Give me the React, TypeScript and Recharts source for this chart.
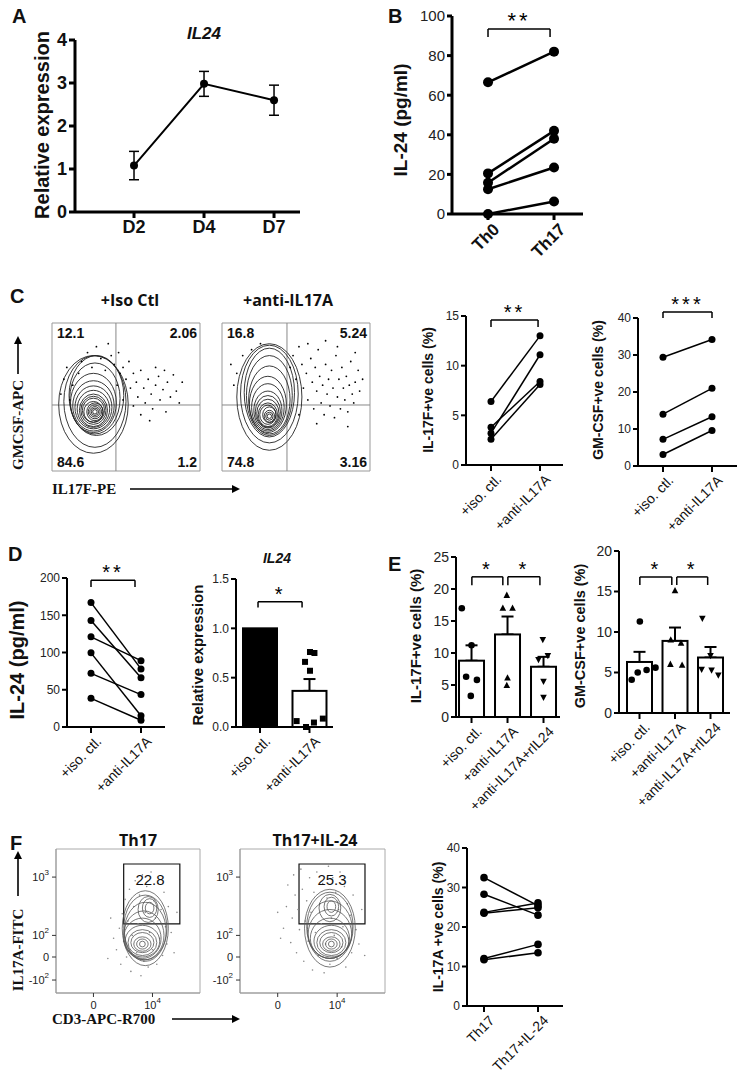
import React from 'react';
import {
  LineChart, Line, XAxis, YAxis, ErrorBar, ComposedChart, Scatter, ScatterChart,
  ReferenceLine, ReferenceArea,
} from 'recharts';

const FONT = '"Liberation Sans", Arial, Helvetica, sans-serif';
const SERIF = '"Liberation Serif", "Times New Roman", serif';
const TFONT = '"Open Sans", "Liberation Sans", sans-serif';

// ---------------- Panel A ----------------
const aDays = ['D2', 'D4', 'D7'];
const aMean = [1.08, 2.98, 2.6];
const aSem = [0.33, 0.29, 0.35];

// ---------------- Panel B ----------------
const bGroups = ['Th0', 'Th17'];
const bTh0 = [66.5, 20.5, 15.8, 12.5, 0];
const bTh17 = [82, 42, 38, 23.5, 6.3];

// ---------------- Panel C ----------------
const cTreat = ['+iso. ctl.', '+anti-IL17A'];
const c17fIso = [6.4, 3.8, 3.2, 2.6];
const c17fAnti = [13.0, 8.4, 11.1, 8.1];
const cGmIso = [29.4, 14.0, 7.2, 3.1];
const cGmAnti = [34.2, 21.0, 13.3, 9.6];
const cQuadIso = ['12.1', '2.06', '84.6', '1.2'];
const cQuadAnti = ['16.8', '5.24', '74.8', '3.16'];
const cIsoLevels = [[29, 40, 1.5, 1.5], [29, 40, 2.5, 2.5], [29, 40, 3.5, 3.5], [29, 40, 4.5, 4.7], [29, 40, 5.5, 6], [28, 40, 6.5, 7], [28, 41, 7.5, 8.2], [28, 41, 8.5, 9.5], [28, 41, 9.5, 11], [28, 42, 11, 12.5], [28, 43, 12.5, 14.5], [28, 44, 14, 17], [28, 46, 15.5, 20], [29, 49, 17, 24], [30, 51, 18.5, 27], [29, 47, 21, 31], [28, 45, 23.5, 33]];
const cAntiLevels = [[32, 37, 1.5, 1.5], [32, 37, 2.5, 2.7], [32, 37, 3.5, 4], [32, 38, 4.5, 5.3], [31, 38, 5.5, 6.5], [31, 38, 6.5, 8], [31, 39, 7.5, 9.5], [31, 40, 8.5, 11], [31, 41, 9.5, 13], [31, 43, 11, 16], [31, 45, 12.5, 19], [32, 48, 14, 23], [32, 51, 15.5, 27], [32, 53, 17, 30], [32, 52, 19.5, 33], [32, 50, 22, 36]];
const cIsoDots = [[8, 62], [10, 70], [14, 58], [18, 66], [20, 74], [24, 80], [27, 70], [30, 84], [33, 76], [36, 68], [38, 86], [40, 78], [42, 72], [45, 80], [46, 66], [48, 70], [50, 62], [52, 74], [53, 56], [55, 66], [57, 60], [58, 50], [60, 68], [62, 56], [63, 46], [65, 62], [67, 52], [68, 42], [70, 58], [72, 64], [73, 48], [75, 55], [77, 40], [78, 60], [80, 50], [82, 65], [84, 54], [86, 46], [60, 38], [66, 34], [55, 44], [48, 48], [70, 70], [88, 60], [76, 68], [12, 48], [6, 52], [44, 58]];
const cAntiDots = [[6, 72], [10, 66], [14, 78], [8, 58], [20, 82], [26, 86], [46, 70], [48, 78], [50, 62], [52, 84], [54, 72], [55, 56], [57, 66], [58, 48], [60, 76], [61, 60], [62, 42], [63, 70], [64, 54], [65, 82], [66, 64], [67, 46], [68, 58], [69, 38], [70, 72], [71, 52], [72, 62], [73, 44], [74, 68], [75, 56], [76, 36], [77, 78], [78, 50], [79, 62], [80, 42], [81, 70], [82, 56], [83, 48], [84, 64], [85, 40], [86, 58], [87, 74], [88, 52], [89, 46], [90, 60], [92, 68], [93, 54], [95, 62], [58, 86], [70, 88], [78, 84], [90, 80], [85, 30], [64, 32], [52, 38]];

// ---------------- Panel D ----------------
const dIso = [167, 143, 121, 99.5, 72, 38.5];
const dAnti = [78, 66, 89, 15, 43.5, 9];
const dRelMean = [1.0, 0.366];
const dRelSem = [0, 0.12];
const dRelAnti = [0.76, 0.75, 0.66, 0.57, 0.06, 0.0, 0.045, 0.085];
const dRelJitter = [0.01, 0.1, -0.09, 0.01, -0.26, -0.07, 0.09, 0.27];

// ---------------- Panel E ----------------
const eTreat = ['+iso. ctl.', '+anti-IL17A', '+anti-IL17A+rIL24'];
const e17fMean = [8.8, 12.9, 7.85];
const e17fSem = [2.4, 2.8, 1.55];
const e17fIso = [17.0, 11.2, 6.3, 5.8, 3.3];
const e17fAnti = [19.0, 17.0, 17.0, 6.1, 4.9];
const e17fRil = [12.1, 9.6, 9.0, 5.6, 3.1];
const e17fIsoJ = [-0.27, 0.0, -0.15, 0.15, -0.02];
const e17fAntiJ = [-0.02, -0.13, 0.14, 0.0, -0.02];
const e17fRilJ = [-0.02, 0.12, -0.14, 0.0, 0.0];
const eGmMean = [6.3, 8.9, 6.85];
const eGmSem = [1.25, 1.65, 1.3];
const eGmIso = [11.3, 5.6, 5.3, 5.0, 4.1];
const eGmAnti = [15.1, 9.0, 8.6, 6.0, 5.9];
const eGmRil = [11.7, 7.1, 5.4, 5.3, 4.7];
const eGmIsoJ = [0.01, 0.45, 0.2, -0.05, -0.22];
const eGmAntiJ = [0.0, -0.12, 0.17, -0.13, 0.2];
const eGmRilJ = [-0.23, 0.0, -0.25, 0.03, 0.22];

// ---------------- Panel F ----------------
const fGroups = ['Th17', 'Th17+IL-24'];
const fTh17 = [32.5, 28.3, 23.7, 23.5, 12.0, 11.7];
const fIl24 = [25.4, 23.0, 26.1, 24.9, 15.6, 13.5];
const fYTicks = [9, 25, 40, 80.5];
const fYLabels: [string, string][] = [['-10', '2'], ['0', ''], ['10', '2'], ['10', '3']];
const fXTicks = [26, 67];
const fXLabels: [string, string][] = [['0', ''], ['10', '4']];
const fTh17Levels = [[60, 34, 2, 2], [60, 34, 4, 3.5], [60, 34, 6, 5], [60, 35, 8, 7], [60, 35, 10, 9], [60, 36, 12, 11], [60, 38, 13, 14], [61, 40, 14, 17], [62, 43, 14.5, 20], [62, 45, 15, 23], [62, 45, 16, 26], [65, 59, 3, 4], [65, 59, 5, 6.5], [64, 58, 7, 9]];
const fIl24Levels = [[63, 34, 2, 2], [63, 34, 4, 3.5], [63, 34, 6, 5], [63, 35, 8, 7], [63, 35, 10, 9], [63, 36, 12, 11], [62, 38, 13.5, 14], [62, 41, 15, 17], [62, 44, 15.5, 20], [62, 46, 16, 24], [62, 45, 17.5, 27], [63, 60, 3, 4], [63, 60, 5, 6.5], [62, 59, 7.5, 9.5]];
const fTh17Dots = [[42, 30], [44, 45], [45, 20], [46, 55], [47, 36], [48, 65], [49, 25], [50, 50], [51, 72], [52, 15], [53, 40], [54, 60], [55, 78], [56, 28], [57, 48], [58, 68], [59, 12], [60, 82], [61, 22], [62, 56], [63, 74], [64, 18], [65, 42], [66, 84], [67, 30], [68, 64], [69, 52], [70, 20], [71, 76], [72, 38], [73, 58], [74, 26], [75, 70], [76, 46], [77, 34], [78, 60], [40, 38], [38, 52], [80, 42], [82, 28], [36, 24], [84, 56]];
const fIl24Dots = [[30, 45], [32, 60], [33, 75], [35, 35], [36, 52], [37, 82], [38, 68], [39, 28], [40, 58], [41, 44], [42, 86], [43, 72], [44, 22], [45, 50], [46, 64], [47, 36], [48, 80], [49, 56], [50, 16], [51, 70], [52, 42], [53, 84], [54, 26], [55, 62], [56, 48], [57, 76], [58, 14], [59, 34], [60, 66], [61, 88], [62, 20], [63, 52], [64, 80], [65, 40], [66, 70], [67, 24], [68, 58], [69, 84], [70, 32], [71, 46], [72, 74], [73, 18], [74, 62], [75, 38], [76, 54], [77, 28], [78, 68], [80, 44], [82, 34], [84, 58], [86, 26], [28, 38], [26, 56]];

// ---------------- helpers ----------------
type Fr = { x0: number; y0: number; x1: number; y1: number };
type Br = { x1: number; x2: number; y: number; drop: number; label: string; fs: number };

function place(f: Fr, yw: number, xh: number, top: number, right: number, lp = 0, bp = 0) {
  return {
    style: { position: 'absolute' as const, left: f.x0 - yw - lp, top: f.y0 - top },
    width: lp + yw + (f.x1 - f.x0) + right,
    height: top + (f.y1 - f.y0) + xh + bp,
    margin: { top, right, left: lp, bottom: bp },
  };
}

function bracketEls(bs: Br[] | undefined, lw: number) {
  if (!bs) return null;
  return bs.flatMap((b, i) => [
    <ReferenceLine key={`bh${i}`} segment={[{ x: b.x1, y: b.y }, { x: b.x2, y: b.y }]} stroke="#000" strokeWidth={lw} ifOverflow="visible"
      label={{ value: b.label, position: 'top', fontSize: b.fs, fill: '#000', offset: 1, fontFamily: FONT, letterSpacing: 3 }} />,
    <ReferenceLine key={`bl${i}`} segment={[{ x: b.x1, y: b.y }, { x: b.x1, y: b.drop }]} stroke="#000" strokeWidth={lw} ifOverflow="visible" />,
    <ReferenceLine key={`br${i}`} segment={[{ x: b.x2, y: b.y }, { x: b.x2, y: b.drop }]} stroke="#000" strokeWidth={lw} ifOverflow="visible" />,
  ]);
}

function rotTick(labels: string[], fs: number, weight: number, dx: number, dy: number) {
  return (p: any) => {
    const x = p.x + dx;
    const y = p.y + dy;
    const i = Math.round(Number(p.payload?.value)) - 1;
    return (
      <text x={x} y={y} transform={`rotate(-45 ${x} ${y})`} textAnchor="end" dominantBaseline="hanging"
        fontSize={fs} fontWeight={weight} fontFamily={FONT} fill="#111">
        {labels[i] ?? ''}
      </text>
    );
  };
}

function marker(kind: string, s: number) {
  return (p: any) => {
    const { cx, cy } = p;
    if (cx == null || cy == null) return <g />;
    if (kind === 'circle') return <circle cx={cx} cy={cy} r={s} fill="#000" />;
    if (kind === 'square') return <rect x={cx - s} y={cy - s} width={2 * s} height={2 * s} fill="#000" />;
    if (kind === 'up') return <polygon points={`${cx},${cy - s * 1.15} ${cx - s},${cy + s * 0.75} ${cx + s},${cy + s * 0.75}`} fill="#000" />;
    return <polygon points={`${cx},${cy + s * 1.15} ${cx - s},${cy - s * 0.75} ${cx + s},${cy - s * 0.75}`} fill="#000" />;
  };
}

// a bar drawn from the scaled value down to the plot's baseline
function barShape(w: number, base: number, fill: string, sw: number) {
  return (p: any) => {
    if (p.cx == null || p.cy == null) return <g />;
    return <rect x={p.cx - w / 2} y={p.cy} width={w} height={Math.max(0, base - p.cy)} fill={fill} stroke="#000" strokeWidth={sw} />;
  };
}

function ellShape(kx: number, ky: number, stroke: string, sw: number) {
  return (p: any) => {
    const d = p.payload ?? p;
    if (p.cx == null) return <g />;
    return <ellipse cx={p.cx} cy={p.cy} rx={d.rx * kx} ry={d.ry * ky} fill="none" stroke={stroke} strokeWidth={sw} />;
  };
}

function dotShape(r: number, fill: string) {
  return (p: any) => (p.cx == null ? <g /> : <circle cx={p.cx} cy={p.cy} r={r} fill={fill} />);
}

// ---------------- paired line chart ----------------
type PairedP = {
  f: Fr; xDomain: [number, number]; yDomain: [number, number]; yTicks: number[];
  cats: string[]; before: number[]; after: number[];
  tickFs: number; catFs: number; catW?: number; catDx?: number; catDy?: number;
  axisW: number; lineW: number; dotR: number; brackets?: Br[]; yw?: number;
};
function Paired(p: PairedP) {
  const yw = p.yw ?? 40;
  const pl = place(p.f, yw, 70, 30, 12);
  const ax = { stroke: '#000', strokeWidth: p.axisW };
  return (
    <div style={pl.style}>
      <LineChart width={pl.width} height={pl.height} margin={pl.margin}>
        <XAxis type="number" dataKey="x" domain={p.xDomain} ticks={[1, 2]} interval={0} height={70}
          axisLine={ax} tickLine={ax} tickSize={6}
          tick={rotTick(p.cats, p.catFs, p.catW ?? 400, p.catDx ?? 4, p.catDy ?? 0)} />
        <YAxis type="number" domain={p.yDomain} ticks={p.yTicks} interval={0} width={yw}
          axisLine={ax} tickLine={ax} tickSize={5}
          tick={{ fontSize: p.tickFs, fill: '#222', fontFamily: FONT }} />
        {bracketEls(p.brackets, 1.5)}
        {p.before.map((b, i) => (
          <Line key={i} data={[{ x: 1, y: b }, { x: 2, y: p.after[i] }]} dataKey="y" stroke="#000" strokeWidth={p.lineW}
            dot={{ r: p.dotR, fill: '#000', stroke: '#000', strokeWidth: 0 }} activeDot={false} isAnimationActive={false} />
        ))}
      </LineChart>
    </div>
  );
}

// ---------------- bar + dots chart ----------------
type Grp = { vals: number[]; jit: number[]; shape: string };
type BarP = {
  f: Fr; xDomain: [number, number]; yDomain: [number, number]; yTicks: number[]; yFmt?: (v: number) => string;
  cats: string[]; means: number[]; sems: number[]; fills: string[]; barSize: number;
  groups: Grp[]; mk: number; tickFs: number; catFs: number; brackets?: Br[]; axisW: number; yw?: number;
};
function BarDots(p: BarP) {
  const yw = p.yw ?? 40;
  const top = 30;
  const pl = place(p.f, yw, 90, top, 12);
  const base = top + (p.f.y1 - p.f.y0);
  const ax = { stroke: '#000', strokeWidth: p.axisW };
  const ticks = p.means.map((_, i) => i + 1);
  return (
    <div style={pl.style}>
      <ComposedChart width={pl.width} height={pl.height} margin={pl.margin}>
        <XAxis type="number" dataKey="x" domain={p.xDomain} ticks={ticks} interval={0} height={90}
          axisLine={ax} tickLine={ax} tickSize={6} tick={rotTick(p.cats, p.catFs, 400, 4, 0)} />
        <YAxis type="number" domain={p.yDomain} ticks={p.yTicks} interval={0} width={yw}
          axisLine={ax} tickLine={ax} tickSize={5} tickFormatter={p.yFmt}
          tick={{ fontSize: p.tickFs, fill: '#222', fontFamily: FONT }} />
        {p.means.map((m, i) => (
          <Scatter key={`bar${i}`} data={[{ x: i + 1, y: m, e: [0, p.sems[i]] }]} dataKey="y"
            shape={barShape(p.barSize, base, p.fills[i], p.axisW)} isAnimationActive={false}>
            {p.sems[i] > 0 ? <ErrorBar dataKey="e" width={6} stroke="#000" strokeWidth={p.axisW} direction="y" /> : null}
          </Scatter>
        ))}
        {p.groups.map((g, gi) => (
          <Scatter key={gi} data={g.vals.map((v, j) => ({ x: gi + 1 + g.jit[j], y: v }))} dataKey="y"
            shape={marker(g.shape, p.mk)} isAnimationActive={false} />
        ))}
        {bracketEls(p.brackets, 1.5)}
      </ComposedChart>
    </div>
  );
}

// ---------------- flow plots ----------------
function FlowC({ f, levels, dots, vx, hy }: { f: Fr; levels: number[][]; dots: number[][]; vx: number; hy: number }) {
  const kx = (f.x1 - f.x0) / 100;
  const ky = (f.y1 - f.y0) / 100;
  const pl = place(f, 0, 0, 4, 4, 4, 4);
  const lv = levels.map(([x, y, rx, ry]) => ({ x, y, rx, ry }));
  const dt = dots.map(([x, y]) => ({ x, y }));
  return (
    <div style={pl.style}>
      <ScatterChart width={pl.width} height={pl.height} margin={pl.margin}>
        <XAxis type="number" dataKey="x" domain={[0, 100]} hide />
        <YAxis type="number" dataKey="y" domain={[0, 100]} hide />
        <ReferenceArea x1={0} x2={100} y1={0} y2={100} fill="#fff" fillOpacity={0} stroke="#999" strokeWidth={1} ifOverflow="visible" />
        <ReferenceLine x={vx} stroke="#888" strokeWidth={1} />
        <ReferenceLine y={hy} stroke="#888" strokeWidth={1} />
        <Scatter data={lv} dataKey="y" shape={ellShape(kx, ky, '#222', 0.9)} isAnimationActive={false} />
        <Scatter data={dt} dataKey="y" shape={dotShape(0.9, '#000')} isAnimationActive={false} />
      </ScatterChart>
    </div>
  );
}

function supTick(vals: number[], labels: [string, string][], axis: 'x' | 'y') {
  return (p: any) => {
    const i = vals.indexOf(Number(p.payload?.value));
    const [b, e] = labels[i] ?? ['', ''];
    const x = axis === 'y' ? p.x - 1 : p.x;
    const y = axis === 'y' ? p.y + 4 : p.y + 10;
    return (
      <text x={x} y={y} textAnchor={axis === 'y' ? 'end' : 'middle'} fontSize={11} fontFamily={FONT} fill="#222">
        {b}
        {e ? <tspan dy={-6} fontSize={8}>{e}</tspan> : null}
      </text>
    );
  };
}

function FlowF({ f, levels, dots, gate }: { f: Fr; levels: number[][]; dots: number[][]; gate: [number, number, number, number] }) {
  const kx = (f.x1 - f.x0) / 100;
  const ky = (f.y1 - f.y0) / 100;
  const pl = place(f, 40, 20, 4, 4);
  const lv = levels.map(([x, y, rx, ry]) => ({ x, y, rx, ry }));
  const dt = dots.map(([x, y]) => ({ x, y }));
  const ax = { stroke: '#999', strokeWidth: 1 };
  const tl = { stroke: '#333', strokeWidth: 1 };
  return (
    <div style={pl.style}>
      <ScatterChart width={pl.width} height={pl.height} margin={pl.margin}>
        <XAxis type="number" dataKey="x" domain={[0, 100]} ticks={fXTicks} interval={0} height={20}
          axisLine={ax} tickLine={tl} tickSize={4} tick={supTick(fXTicks, fXLabels, 'x')} />
        <YAxis type="number" dataKey="y" domain={[0, 100]} ticks={fYTicks} interval={0} width={40}
          axisLine={ax} tickLine={tl} tickSize={4} tick={supTick(fYTicks, fYLabels, 'y')} />
        <ReferenceArea x1={0} x2={100} y1={0} y2={100} fill="#fff" fillOpacity={0} stroke="#aaa" strokeWidth={1} ifOverflow="visible" />
        <Scatter data={dt} dataKey="y" shape={dotShape(0.8, '#888')} isAnimationActive={false} />
        <Scatter data={lv} dataKey="y" shape={ellShape(kx, ky, '#555', 0.8)} isAnimationActive={false} />
        <ReferenceArea x1={gate[0]} x2={gate[1]} y1={gate[2]} y2={gate[3]} fill="#fff" fillOpacity={0} stroke="#111" strokeWidth={1.2} ifOverflow="visible" />
      </ScatterChart>
    </div>
  );
}

// ---------------- Panel A ----------------
function PanelA() {
  const f = { x0: 75, y0: 40, x1: 300, y1: 212 };
  const pl = place(f, 50, 40, 20, 10);
  const rows = aDays.map((_, i) => ({ x: i + 1, y: aMean[i], e: [aSem[i], aSem[i]] }));
  const ax = { stroke: '#000', strokeWidth: 3 };
  return (
    <div style={pl.style}>
      <LineChart width={pl.width} height={pl.height} margin={pl.margin} data={rows}>
        <XAxis type="number" dataKey="x" domain={[0.157, 3.371]} ticks={[1, 2, 3]} interval={0} height={40}
          axisLine={ax} tickLine={ax} tickSize={6} tickFormatter={(v: number) => aDays[Math.round(v) - 1] ?? ''}
          tick={{ fontSize: 18, fontWeight: 700, fill: '#111', fontFamily: FONT }} />
        <YAxis type="number" domain={[0, 4]} ticks={[0, 1, 2, 3, 4]} interval={0} width={50}
          axisLine={ax} tickLine={ax} tickSize={6}
          tick={{ fontSize: 18, fontWeight: 700, fill: '#111', fontFamily: FONT }} />
        <Line dataKey="y" stroke="#000" strokeWidth={2} dot={{ r: 4, fill: '#000', stroke: '#000', strokeWidth: 0 }}
          activeDot={false} isAnimationActive={false}>
          <ErrorBar dataKey="e" width={5} stroke="#000" strokeWidth={1.5} direction="y" />
        </Line>
      </LineChart>
    </div>
  );
}

// ---------------- overlay text ----------------
type T = { t: string; x: number; y: number; fs: number; w?: number; it?: boolean; rot?: boolean; anchor?: 'start' | 'middle' | 'end'; fam?: string };
const texts: T[] = [
  { t: 'A', x: 12, y: 16, fs: 20, w: 700 },
  { t: 'B', x: 388, y: 16, fs: 20, w: 700 },
  { t: 'C', x: 10, y: 296, fs: 20, w: 700 },
  { t: 'D', x: 8, y: 554, fs: 20, w: 700 },
  { t: 'E', x: 388, y: 564, fs: 20, w: 700 },
  { t: 'F', x: 10, y: 843, fs: 20, w: 700 },
  { t: 'IL24', x: 204, y: 33, fs: 17, w: 700, it: true, anchor: 'middle' },
  { t: 'IL24', x: 277, y: 558, fs: 14, w: 700, it: true, anchor: 'middle' },
  { t: 'Relative expression', x: 42, y: 125, fs: 20, w: 700, rot: true, anchor: 'middle' },
  { t: 'IL-24 (pg/ml)', x: 400, y: 120, fs: 19, w: 700, rot: true, anchor: 'middle' },
  { t: 'IL-17F+ve cells (%)', x: 428, y: 390, fs: 14, w: 700, rot: true, anchor: 'middle' },
  { t: 'GM-CSF+ve cells (%)', x: 598, y: 390, fs: 14, w: 700, rot: true, anchor: 'middle' },
  { t: 'IL-24 (pg/ml)', x: 17, y: 660, fs: 20, w: 700, rot: true, anchor: 'middle' },
  { t: 'Relative expression', x: 197, y: 655, fs: 15, w: 700, rot: true, anchor: 'middle' },
  { t: 'IL-17F+ve cells (%)', x: 415, y: 636, fs: 15, w: 700, rot: true, anchor: 'middle' },
  { t: 'GM-CSF+ve cells (%)', x: 580, y: 636, fs: 14.5, w: 700, rot: true, anchor: 'middle' },
  { t: 'IL-17A +ve cells (%)', x: 438, y: 927, fs: 14, w: 700, rot: true, anchor: 'middle' },
  { t: '+Iso Ctl', x: 130, y: 300, fs: 16, w: 700, anchor: 'middle', fam: TFONT },
  { t: '+anti-IL17A', x: 288, y: 300, fs: 16, w: 700, anchor: 'middle', fam: TFONT },
  { t: 'Th17', x: 138, y: 840, fs: 16, w: 700, anchor: 'middle', fam: TFONT },
  { t: 'Th17+IL-24', x: 315, y: 840, fs: 16, w: 700, anchor: 'middle', fam: TFONT },
  { t: cQuadIso[0], x: 57, y: 333, fs: 14, w: 700 },
  { t: cQuadIso[1], x: 197, y: 333, fs: 14, w: 700, anchor: 'end' },
  { t: cQuadIso[2], x: 57, y: 462, fs: 14, w: 700 },
  { t: cQuadIso[3], x: 197, y: 462, fs: 14, w: 700, anchor: 'end' },
  { t: cQuadAnti[0], x: 227, y: 333, fs: 14, w: 700 },
  { t: cQuadAnti[1], x: 367, y: 333, fs: 14, w: 700, anchor: 'end' },
  { t: cQuadAnti[2], x: 227, y: 462, fs: 14, w: 700 },
  { t: cQuadAnti[3], x: 367, y: 462, fs: 14, w: 700, anchor: 'end' },
  { t: '22.8', x: 150, y: 879, fs: 15, anchor: 'middle' },
  { t: '25.3', x: 332, y: 879, fs: 15, anchor: 'middle' },
  { t: 'GMCSF-APC', x: 18, y: 425, fs: 15, w: 700, rot: true, anchor: 'middle', fam: SERIF },
  { t: 'IL17F-PE', x: 52, y: 489, fs: 15, w: 700, fam: SERIF },
  { t: 'IL17A-FITC', x: 18, y: 950, fs: 15, w: 700, rot: true, anchor: 'middle', fam: SERIF },
  { t: 'CD3-APC-R700', x: 52, y: 1019, fs: 15, w: 700, fam: SERIF },
];

function Overlay() {
  return (
    <svg width={744} height={1075} style={{ position: 'absolute', left: 0, top: 0, pointerEvents: 'none' }}>
      <defs>
        <marker id="ah" markerWidth="8" markerHeight="8" refX="6" refY="4" orient="auto" markerUnits="userSpaceOnUse">
          <path d="M0,0 L8,4 L0,8 Z" fill="#000" />
        </marker>
      </defs>
      {texts.map((d, i) => (
        <text key={i} x={d.x} y={d.y} fontSize={d.fs} fontWeight={d.w ?? 400} fontStyle={d.it ? 'italic' : 'normal'}
          fontFamily={d.fam ?? FONT} textAnchor={d.anchor ?? 'start'} dominantBaseline="central" fill="#111"
          transform={d.rot ? `rotate(-90 ${d.x} ${d.y})` : undefined}>
          {d.t}
        </text>
      ))}
      <line x1={18} y1={374} x2={18} y2={338} stroke="#000" strokeWidth={1.6} markerEnd="url(#ah)" />
      <line x1={130} y1={489} x2={238} y2={489} stroke="#000" strokeWidth={1.6} markerEnd="url(#ah)" />
      <line x1={18} y1={896} x2={18} y2={853} stroke="#000" strokeWidth={1.6} markerEnd="url(#ah)" />
      <line x1={172} y1={1019} x2={238} y2={1019} stroke="#000" strokeWidth={1.6} markerEnd="url(#ah)" />
    </svg>
  );
}

export default function App() {
  return (
    <div style={{ position: 'absolute', left: 0, top: 0, width: 744, height: 1075, background: '#fff', fontFamily: FONT, overflow: 'hidden' }}>
      <style>{'.recharts-surface{overflow:visible}'}</style>
      <PanelA />
      <Paired f={{ x0: 452, y0: 16, x1: 583, y1: 214 }} xDomain={[0.4545, 2.439]} yDomain={[0, 100]} yTicks={[0, 20, 40, 60, 80, 100]}
        cats={bGroups} before={bTh0} after={bTh17} tickFs={15} catFs={17} catW={700} axisW={3} lineW={2.5} dotR={5}
        brackets={[{ x1: 1, x2: 1.94, y: 93.4, drop: 89.4, label: '**', fs: 22 }]} />
      <FlowC f={{ x0: 52, y0: 323, x1: 200, y1: 471 }} levels={cIsoLevels} dots={cIsoDots} vx={43.2} hy={44.6} />
      <FlowC f={{ x0: 222, y0: 323, x1: 370, y1: 471 }} levels={cAntiLevels} dots={cAntiDots} vx={43.9} hy={44.6} />
      <Paired f={{ x0: 466, y0: 316, x1: 563, y1: 465 }} xDomain={[0.49, 2.469]} yDomain={[0, 15]} yTicks={[0, 5, 10, 15]}
        cats={cTreat} before={c17fIso} after={c17fAnti} tickFs={12} catFs={14} axisW={2} lineW={1.5} dotR={3.5}
        brackets={[{ x1: 1, x2: 1.96, y: 14.6, drop: 13.9, label: '**', fs: 20 }]} />
      <Paired f={{ x0: 638, y0: 318, x1: 737, y1: 466 }} xDomain={[0.49, 2.51]} yDomain={[0, 40]} yTicks={[0, 10, 20, 30, 40]}
        cats={cTreat} before={cGmIso} after={cGmAnti} tickFs={12} catFs={14} axisW={2} lineW={1.5} dotR={3.5}
        brackets={[{ x1: 1, x2: 2, y: 41.6, drop: 40, label: '***', fs: 20 }]} />
      <Paired f={{ x0: 67, y0: 578, x1: 165, y1: 727 }} xDomain={[0.52, 2.48]} yDomain={[0, 200]} yTicks={[0, 50, 100, 150, 200]}
        cats={cTreat} before={dIso} after={dAnti} tickFs={12} catFs={14} axisW={2} lineW={1.5} dotR={3.5}
        brackets={[{ x1: 1, x2: 1.88, y: 197, drop: 188, label: '**', fs: 20 }]} />
      <BarDots f={{ x0: 236, y0: 579, x1: 333, y1: 727 }} xDomain={[0.515, 2.475]} yDomain={[0, 1.5]} yTicks={[0, 0.5, 1, 1.5]}
        yFmt={(v: number) => v.toFixed(1)} cats={cTreat} means={dRelMean} sems={dRelSem} fills={['#000', '#fff']} barSize={34}
        groups={[{ vals: [], jit: [], shape: 'square' }, { vals: dRelAnti, jit: dRelJitter, shape: 'square' }]} mk={3}
        tickFs={12} catFs={14} axisW={2} brackets={[{ x1: 0.96, x2: 1.85, y: 1.27, drop: 1.21, label: '*', fs: 20 }]} />
      <BarDots f={{ x0: 456, y0: 557, x1: 560, y1: 717 }} xDomain={[0.569, 3.458]} yDomain={[0, 25]} yTicks={[0, 5, 10, 15, 20, 25]}
        cats={eTreat} means={e17fMean} sems={e17fSem} fills={['#fff', '#fff', '#fff']} barSize={25}
        groups={[{ vals: e17fIso, jit: e17fIsoJ, shape: 'circle' }, { vals: e17fAnti, jit: e17fAntiJ, shape: 'up' }, { vals: e17fRil, jit: e17fRilJ, shape: 'down' }]}
        mk={3.3} tickFs={14} catFs={14} axisW={2}
        brackets={[{ x1: 1.01, x2: 1.87, y: 21.9, drop: 20.6, label: '*', fs: 20 }, { x1: 2.01, x2: 2.9, y: 21.9, drop: 20.6, label: '*', fs: 20 }]} />
      <BarDots f={{ x0: 619, y0: 551, x1: 730, y1: 713 }} xDomain={[0.4225, 3.549]} yDomain={[0, 20]} yTicks={[0, 5, 10, 15, 20]}
        cats={eTreat} means={eGmMean} sems={eGmSem} fills={['#fff', '#fff', '#fff']} barSize={25}
        groups={[{ vals: eGmIso, jit: eGmIsoJ, shape: 'circle' }, { vals: eGmAnti, jit: eGmAntiJ, shape: 'up' }, { vals: eGmRil, jit: eGmRilJ, shape: 'down' }]}
        mk={3.3} tickFs={14} catFs={14} axisW={2}
        brackets={[{ x1: 1.01, x2: 1.91, y: 16.8, drop: 15.8, label: '*', fs: 20 }, { x1: 2.05, x2: 2.92, y: 16.8, drop: 15.8, label: '*', fs: 20 }]} />
      <FlowF f={{ x0: 56, y0: 849, x1: 200, y1: 993 }} levels={fTh17Levels} dots={fTh17Dots} gate={[47, 86, 48, 89.6]} />
      <FlowF f={{ x0: 240, y0: 849, x1: 385, y1: 993 }} levels={fIl24Levels} dots={fIl24Dots} gate={[40.7, 86.2, 48, 89.6]} />
      <Paired f={{ x0: 467, y0: 848, x1: 563, y1: 1006 }} xDomain={[0.685, 2.463]} yDomain={[0, 40]} yTicks={[0, 10, 20, 30, 40]}
        cats={fGroups} before={fTh17} after={fIl24} tickFs={12} catFs={14} axisW={2} lineW={1.5} dotR={3.8} />
      <Overlay />
    </div>
  );
}
